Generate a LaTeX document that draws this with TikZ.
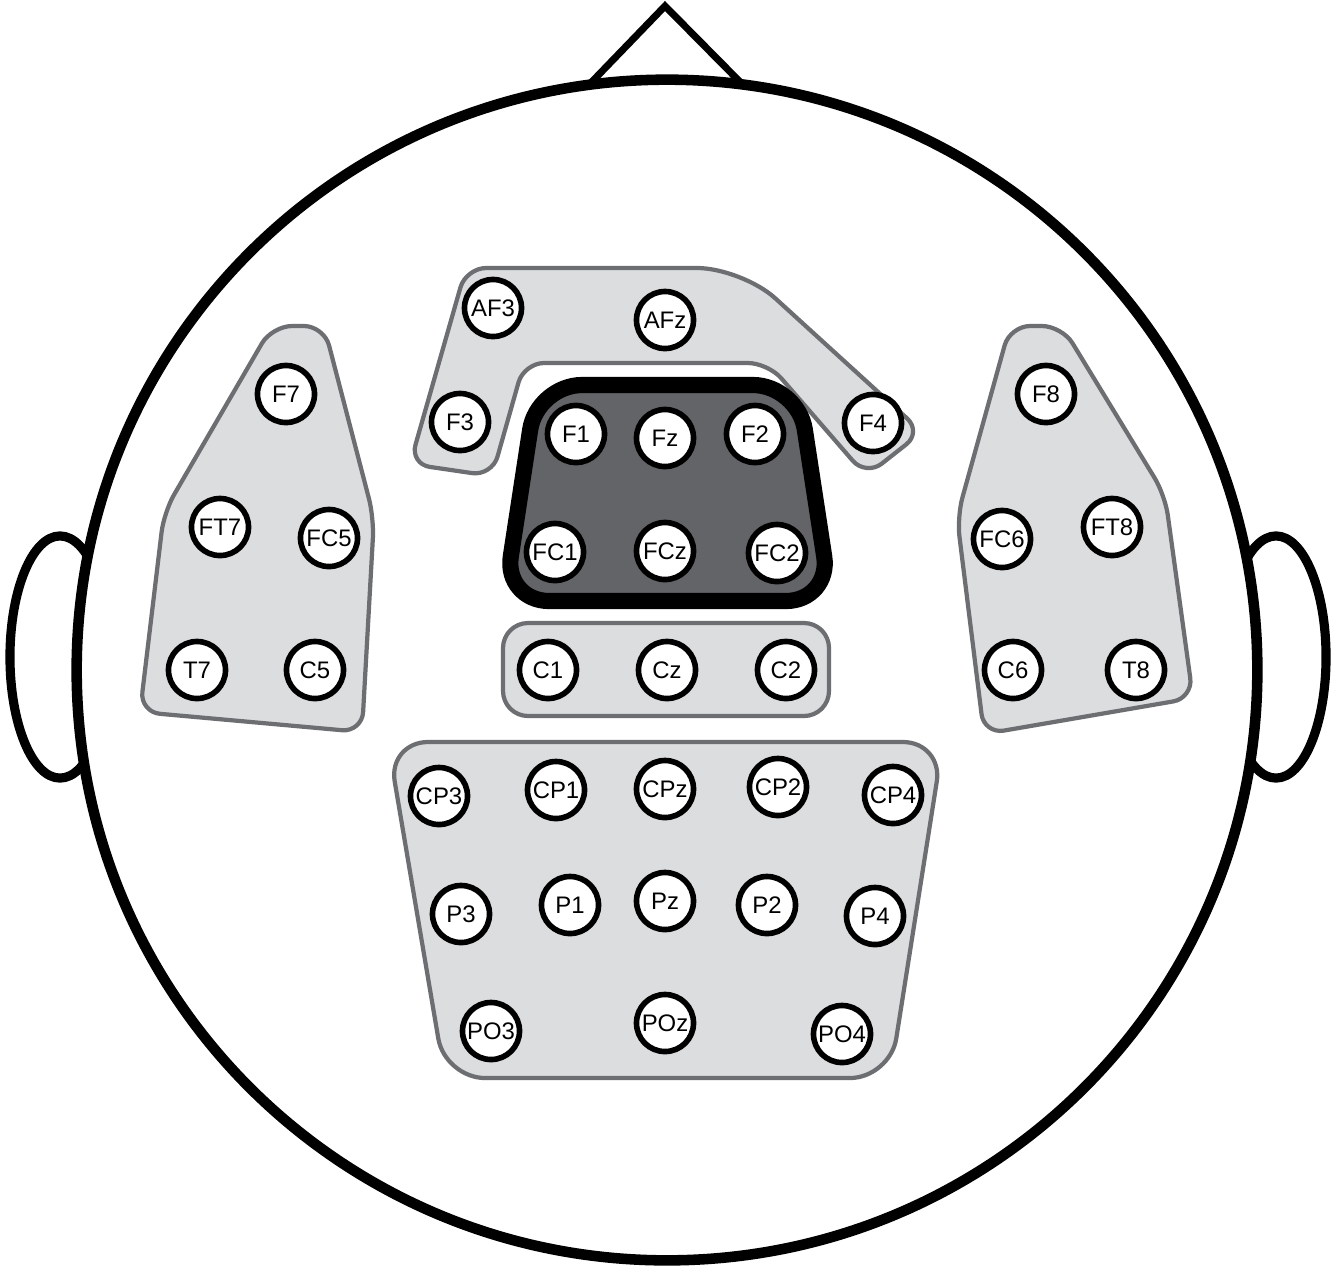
\documentclass[tikz,border=0pt]{standalone}
\usepackage{fontspec}
\setmainfont{Liberation Sans}
\definecolor{regiongray}{HTML}{DCDDDF}
\definecolor{edgegray}{HTML}{6D6E71}
\definecolor{focusgray}{HTML}{636468}

\begin{document}
\begin{tikzpicture}[
      x=0.01cm, y=-0.01cm,
      electrode/.style={circle, draw=black, fill=white, line width=1.6pt, minimum size=0.57cm, inner sep=0pt, font=\fontsize{6.8}{8}\selectfont},
      region/.style={draw=edgegray, fill=regiongray, line width=1.2pt, rounded corners=2mm},
      focus/.style={draw=black, fill=focusgray, line width=4.6pt, rounded corners=4.5mm},
      headline/.style={draw=black, fill=white, line width=3pt},
    ]
    \useasboundingbox (0,0) rectangle (1343,1275);
    % Ears, nose and head outline
    \draw [headline, line width=2.6pt] (60,657) ellipse [x radius=0.5cm, y radius=1.21cm];
    \draw [headline, line width=2.6pt] (1276,657) ellipse [x radius=0.5cm, y radius=1.21cm];
    \draw [line width=2pt, line join=miter] (582,92) -- (665,6) -- (750,92);
    \draw [headline] (667,670) circle [radius=5.9cm];
    % Electrode groups
    \draw [region] (272,326) -- (324,326) -- (374,518) -- (362,732) -- (140,712) -- (164,512) -- cycle;
    \draw [region] (1010,326) -- (1062,326) -- (1165,495) -- (1193,698) -- (984,734) -- (957,517) -- cycle;
    \draw [region] (466,268) [rounded corners=4.5mm] -- (742,268) [rounded corners=2mm] -- (922,432) -- (866,476) -- (768,363) -- (524,363) -- (492,476) -- (410,464) -- cycle;
    \draw [focus] (537,385) -- (798,385) -- (831,601) -- (504,601) -- cycle;
    \draw [region, rounded corners=2.5mm] (503,623) rectangle (829,716);
    \draw [region, rounded corners=4mm] (388,742) -- (943,742) -- (890,1078) -- (445,1078) -- cycle;
    % Frontal electrodes
    \node [electrode] (AF3) at (493,308) {AF3};
    \node [electrode] (AFz) at (665,320) {AFz};
    \node [electrode] (F3) at (460,422) {F3};
    \node [electrode] (F4) at (873,423) {F4};
    \node [electrode] (F1) at (576,434) {F1};
    \node [electrode] (Fz) at (665,438) {Fz};
    \node [electrode] (F2) at (755,434) {F2};
    \node [electrode] (FC1) at (555,552) {FC1};
    \node [electrode] (FCz) at (665,551) {FCz};
    \node [electrode] (FC2) at (777,553) {FC2};
    % Central electrodes
    \node [electrode] (C1) at (548,670) {C1};
    \node [electrode] (Cz) at (667,670) {Cz};
    \node [electrode] (C2) at (786,670) {C2};
    % Left side
    \node [electrode] (F7) at (286,394) {F7};
    \node [electrode] (FT7) at (220,527) {FT7};
    \node [electrode] (FC5) at (329,538) {FC5};
    \node [electrode] (T7) at (197,670) {T7};
    \node [electrode] (C5) at (315,670) {C5};
    % Right side
    \node [electrode] (F8) at (1046,394) {F8};
    \node [electrode] (FC6) at (1002,539) {FC6};
    \node [electrode] (FT8) at (1112,527) {FT8};
    \node [electrode] (C6) at (1013,670) {C6};
    \node [electrode] (T8) at (1136,670) {T8};
    % Parietal electrodes
    \node [electrode] (CP3) at (439,796) {CP3};
    \node [electrode] (CP1) at (556,790) {CP1};
    \node [electrode] (CPz) at (665,789) {CPz};
    \node [electrode] (CP2) at (778,787) {CP2};
    \node [electrode] (CP4) at (893,795) {CP4};
    \node [electrode] (P3) at (461,914) {P3};
    \node [electrode] (P1) at (570,905) {P1};
    \node [electrode] (Pz) at (665,901) {Pz};
    \node [electrode] (P2) at (767,905) {P2};
    \node [electrode] (P4) at (875,916) {P4};
    \node [electrode] (PO3) at (491,1031) {PO3};
    \node [electrode] (POz) at (665,1023) {POz};
    \node [electrode] (PO4) at (842,1034) {PO4};
  \end{tikzpicture}
\end{document}
